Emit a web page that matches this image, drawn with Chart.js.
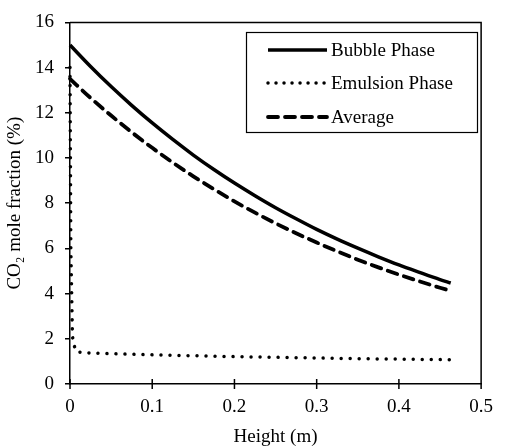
<!DOCTYPE html>
<html>
<head>
<meta charset="utf-8">
<script src="https://cdn.jsdelivr.net/npm/chart.js@4.4.0/dist/chart.umd.min.js"></script>
<style>
  body { margin: 0; background: #fff; }
</style>
</head>
<body>
<canvas id="co2Chart" width="505" height="446"></canvas>
<script>
// Values
const heights = [0, 0.025, 0.05, 0.075, 0.1, 0.125, 0.15, 0.175, 0.2, 0.225, 0.25, 0.275, 0.3, 0.325, 0.35, 0.375, 0.4, 0.425, 0.45, 0.463]
const bubble = [15.0, 14.05, 13.16, 12.33, 11.55, 10.82, 10.13, 9.49, 8.89, 8.33, 7.8, 7.31, 6.84, 6.41, 6.01, 5.63, 5.27, 4.94, 4.62, 4.47]
const average = [13.5, 12.66, 11.88, 11.14, 10.45, 9.8, 9.19, 8.62, 8.08, 7.58, 7.11, 6.67, 6.26, 5.87, 5.5, 5.16, 4.84, 4.54, 4.26, 4.12]
const emulsionHeights = [0, 0.001, 0.003, 0.005, 0.008, 0.025, 0.05, 0.1, 0.15, 0.2, 0.25, 0.3, 0.35, 0.4, 0.45, 0.463]
const emulsion = [14.0, 6.0, 2.1, 1.7, 1.42, 1.37, 1.34, 1.29, 1.25, 1.21, 1.18, 1.15, 1.12, 1.1, 1.08, 1.07]
const seriesNames = ["Bubble Phase", "Emulsion Phase", "Average"]
const xTicks = [0, 0.1, 0.2, 0.3, 0.4, 0.5]
const yTicks = [0, 2, 4, 6, 8, 10, 12, 14, 16]

const serif = "'Liberation Serif', 'Times New Roman', serif"
Chart.defaults.font.family = serif
Chart.defaults.font.size = 19
Chart.defaults.color = "#000"

const pairs = (xs, ys) => xs.map((x, i) => ({ x: x, y: ys[i] }))

// line styles shared by plot and legend
const styles = [
  { width: 3.5, dash: [], cap: "butt" },
  { width: 3.5, dash: [0.01, 9], cap: "round" },
  { width: 3.8, dash: [10, 7], cap: "round" },
]

// top/right frame and crossing x ticks
const framePlugin = {
  id: "frame",
  afterDatasetsDraw(chart) {
    const { ctx, chartArea: a, scales } = chart
    ctx.save()
    ctx.strokeStyle = "#000"
    ctx.lineWidth = 1.5
    ctx.beginPath()
    ctx.moveTo(a.left, a.top)
    ctx.lineTo(a.right, a.top)
    ctx.lineTo(a.right, a.bottom)
    xTicks.forEach(v => {
      const px = scales.x.getPixelForValue(v)
      ctx.moveTo(px, a.bottom - 5)
      ctx.lineTo(px, a.bottom + 5)
    })
    ctx.stroke()
    ctx.restore()
  },
}

// boxed legend inside the plot
const legendPlugin = {
  id: "boxLegend",
  afterDraw(chart) {
    const ctx = chart.ctx
    ctx.save()
    ctx.fillStyle = "#fff"
    ctx.fillRect(246, 32, 231, 100)
    ctx.strokeStyle = "#000"
    ctx.lineWidth = 1.2
    ctx.strokeRect(246.5, 32.5, 231, 100)
    const rows = [50, 83, 117]
    seriesNames.forEach((name, i) => {
      const s = styles[i]
      ctx.beginPath()
      ctx.lineWidth = s.width
      ctx.lineCap = s.cap
      ctx.setLineDash(i === 1 ? [0.01, 8] : s.dash)
      ctx.moveTo(268, rows[i])
      ctx.lineTo(327, rows[i])
      ctx.stroke()
      ctx.setLineDash([])
      ctx.fillStyle = "#000"
      ctx.font = "19px " + serif
      ctx.textBaseline = "middle"
      ctx.fillText(name, 331, rows[i] + 1)
    })
    ctx.restore()
  },
}

const ctx = document.getElementById("co2Chart").getContext("2d")
new Chart(ctx, {
  type: "line",
  data: {
    datasets: [
      { label: seriesNames[0], data: pairs(heights, bubble) },
      { label: seriesNames[1], data: pairs(emulsionHeights, emulsion) },
      { label: seriesNames[2], data: pairs(heights, average) },
    ].map((d, i) => Object.assign(d, {
      borderColor: "#000",
      borderWidth: styles[i].width,
      borderDash: styles[i].dash,
      borderCapStyle: styles[i].cap,
      pointRadius: 0,
      cubicInterpolationMode: i === 1 ? "default" : "monotone",
      clip: false,
    })),
  },
  options: {
    responsive: false,
    animation: false,
    layout: { padding: { top: 18, right: 14, left: 0, bottom: 0 } },
    plugins: { legend: { display: false }, tooltip: { enabled: false } },
    scales: {
      x: {
        type: "linear",
        min: 0,
        max: 0.5,
        afterBuildTicks: axis => { axis.ticks = xTicks.map(v => ({ value: v })) },
        afterFit: axis => { axis.height = 62 },
        ticks: { padding: 12, callback: v => String(+v.toFixed(1)) },
        grid: { drawOnChartArea: false, drawTicks: false },
        border: { color: "#000", width: 1.5 },
        title: { display: true, text: "Height (m)", padding: { top: 0, bottom: -2 } },
      },
      y: {
        min: 0,
        max: 16,
        afterBuildTicks: axis => { axis.ticks = yTicks.map(v => ({ value: v })) },
        afterFit: axis => { axis.width = 70 },
        ticks: { padding: 11 },
        grid: { drawOnChartArea: false, tickLength: 5, color: "#000", lineWidth: 1.5 },
        border: { color: "#000", width: 1.5 },
        title: { display: true, text: "CO\u2082 mole fraction (%)", padding: { top: 4, bottom: 0 } },
      },
    },
  },
  plugins: [framePlugin, legendPlugin],
})
</script>
</body>
</html>
